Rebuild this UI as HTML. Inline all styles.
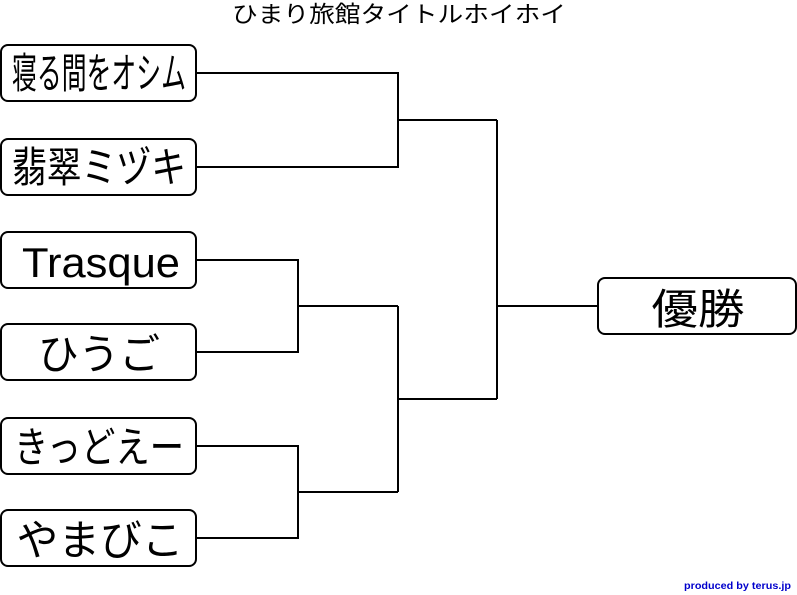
<!DOCTYPE html>
<html><head><meta charset="utf-8"><style>body{margin:0;background:#fff}svg{display:block}</style></head><body>
<svg width="797" height="595" xmlns="http://www.w3.org/2000/svg" font-family="'Liberation Sans','Noto Sans CJK JP',sans-serif">
<text x="399" y="22" font-size="23" text-anchor="middle" textLength="334" lengthAdjust="spacingAndGlyphs">ひまり旅館タイトルホイホイ</text>
<g fill="none" stroke="#000" stroke-width="2">
<polyline points="196,73 398,73 398,167 196,167"/>
<line x1="398" y1="120" x2="497" y2="120"/>
<polyline points="196,260 298,260 298,352 196,352"/>
<line x1="298" y1="306" x2="398" y2="306"/>
<polyline points="196,446 298,446 298,538 196,538"/>
<line x1="298" y1="492" x2="398" y2="492"/>
<polyline points="398,306 398,492"/>
<line x1="398" y1="399" x2="497" y2="399"/>
<polyline points="497,120 497,399"/>
<line x1="497" y1="306" x2="598" y2="306"/>
<rect x="1" y="45" width="195" height="56" rx="7"/>
<rect x="1" y="139" width="195" height="56" rx="7"/>
<rect x="1" y="232" width="195" height="56" rx="7"/>
<rect x="1" y="324" width="195" height="56" rx="7"/>
<rect x="1" y="418" width="195" height="56" rx="7"/>
<rect x="1" y="510" width="195" height="56" rx="7"/>
<rect x="598" y="278" width="198" height="56" rx="7"/>
</g>
<g font-size="42" text-anchor="middle" lengthAdjust="spacingAndGlyphs">
<text x="99" y="88" textLength="174" lengthAdjust="spacingAndGlyphs">寝る間をオシム</text>
<text x="99" y="182" textLength="174" lengthAdjust="spacingAndGlyphs">翡翠ミヅキ</text>
<text x="101" y="277" textLength="158" lengthAdjust="spacingAndGlyphs">Trasque</text>
<text x="99" y="369" textLength="122" lengthAdjust="spacingAndGlyphs">ひうご</text>
<text x="99" y="462" textLength="170" lengthAdjust="spacingAndGlyphs">きっどえー</text>
<text x="100" y="555" textLength="167" lengthAdjust="spacingAndGlyphs">やまびこ</text>
<text x="698" y="324" textLength="93" lengthAdjust="spacingAndGlyphs">優勝</text>
</g>
<text x="791" y="589" font-size="10" font-weight="bold" fill="#0000cc" text-anchor="end" textLength="107" lengthAdjust="spacingAndGlyphs">produced by terus.jp</text>
</svg>
</body></html>
